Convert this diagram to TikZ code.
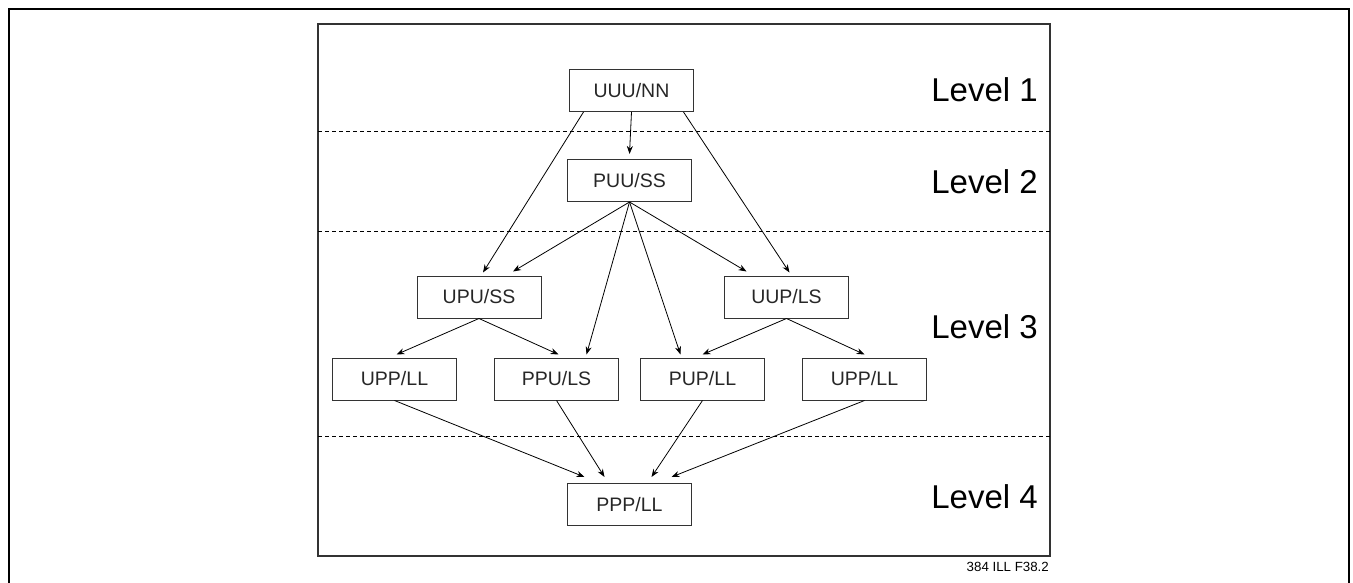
\documentclass[tikz,border=0pt]{standalone}
\usepackage{fontspec}
\setmainfont{Liberation Sans}
\usetikzlibrary{arrows.meta}
\tikzstyle{stage}=[draw=black!80,line width=1pt,minimum width=124pt,minimum height=42pt,inner sep=0pt,text=black!85,font=\fontsize{19.5}{22}\selectfont]
\tikzstyle{level}=[anchor=east,inner sep=0pt,font=\fontsize{33}{38}\selectfont]
\tikzstyle{arr}=[-{Stealth[length=8pt,width=6pt]},line width=0.8pt]
\tikzstyle{sep}=[dash pattern=on 4pt off 3pt,line width=0.8pt]

\begin{document}
\begin{tikzpicture}[x=1pt,y=-1pt]
  \useasboundingbox (0,0) rectangle (1353,583);
  % frames
  \draw[line width=2pt] (9,583) -- (9,9) -- (1349,9) -- (1349,583);
  \draw[line width=1.2pt,black!80] (318,24) rectangle (1050,556);
  \foreach \y in {131,231,436}
    \draw[sep] (318,\y) -- (1050,\y);
  % lattice
  \node[stage] (uuu) at (631.5,90.5) {UUU/NN};
  \node[stage] (puu) at (629.5,180.5) {PUU/SS};
  \node[stage] (upu) at (479,297) {UPU/SS};
  \node[stage] (uup) at (786.5,297) {UUP/LS};
  \node[stage] (upp1) at (394.5,379) {UPP/LL};
  \node[stage] (ppu) at (556.5,379) {PPU/LS};
  \node[stage] (pup) at (702.5,379) {PUP/LL};
  \node[stage] (upp2) at (864.5,379) {UPP/LL};
  \node[stage] (ppp) at (629.5,504.5) {PPP/LL};
  % levels
  \node[level] (lvl1) at (1038,90) {Level 1};
  \node[level] (lvl2) at (1038,182) {Level 2};
  \node[level] (lvl3) at (1038,327) {Level 3};
  \node[level] (lvl4) at (1038,497) {Level 4};
  \node[anchor=east,inner sep=0pt,font=\fontsize{13.3}{15}\selectfont] (fig) at (1049,567) {384 ILL F38.2};
  % edges
  \draw[arr] (uuu.south) -- ([yshift=5pt]puu.north);
  \draw[arr] ([xshift=-48pt]uuu.south) -- ([xshift=4pt,yshift=3pt]upu.north);
  \draw[arr] ([xshift=52pt]uuu.south) -- ([xshift=3pt,yshift=3pt]uup.north);
  \draw[arr] (puu.south) -- ([xshift=34pt,yshift=4pt]upu.north);
  \draw[arr] (puu.south) -- ([xshift=30pt,yshift=3pt]ppu.north);
  \draw[arr] (puu.south) -- ([xshift=-22pt,yshift=3pt]pup.north);
  \draw[arr] (puu.south) -- ([xshift=-40pt,yshift=4pt]uup.north);
  \draw[arr] (upu.south) -- ([xshift=2pt,yshift=3pt]upp1.north);
  \draw[arr] (upu.south) -- ([xshift=2pt,yshift=3pt]ppu.north);
  \draw[arr] (uup.south) -- ([yshift=3pt]pup.north);
  \draw[arr] (uup.south) -- ([yshift=3pt]upp2.north);
  \draw[arr] (upp1.south) -- ([xshift=-45pt,yshift=6pt]ppp.north);
  \draw[arr] (ppu.south) -- ([xshift=-25pt,yshift=6pt]ppp.north);
  \draw[arr] (pup.south) -- ([xshift=22pt,yshift=6pt]ppp.north);
  \draw[arr] (upp2.south) -- ([xshift=42pt,yshift=6pt]ppp.north);
\end{tikzpicture}
\end{document}
